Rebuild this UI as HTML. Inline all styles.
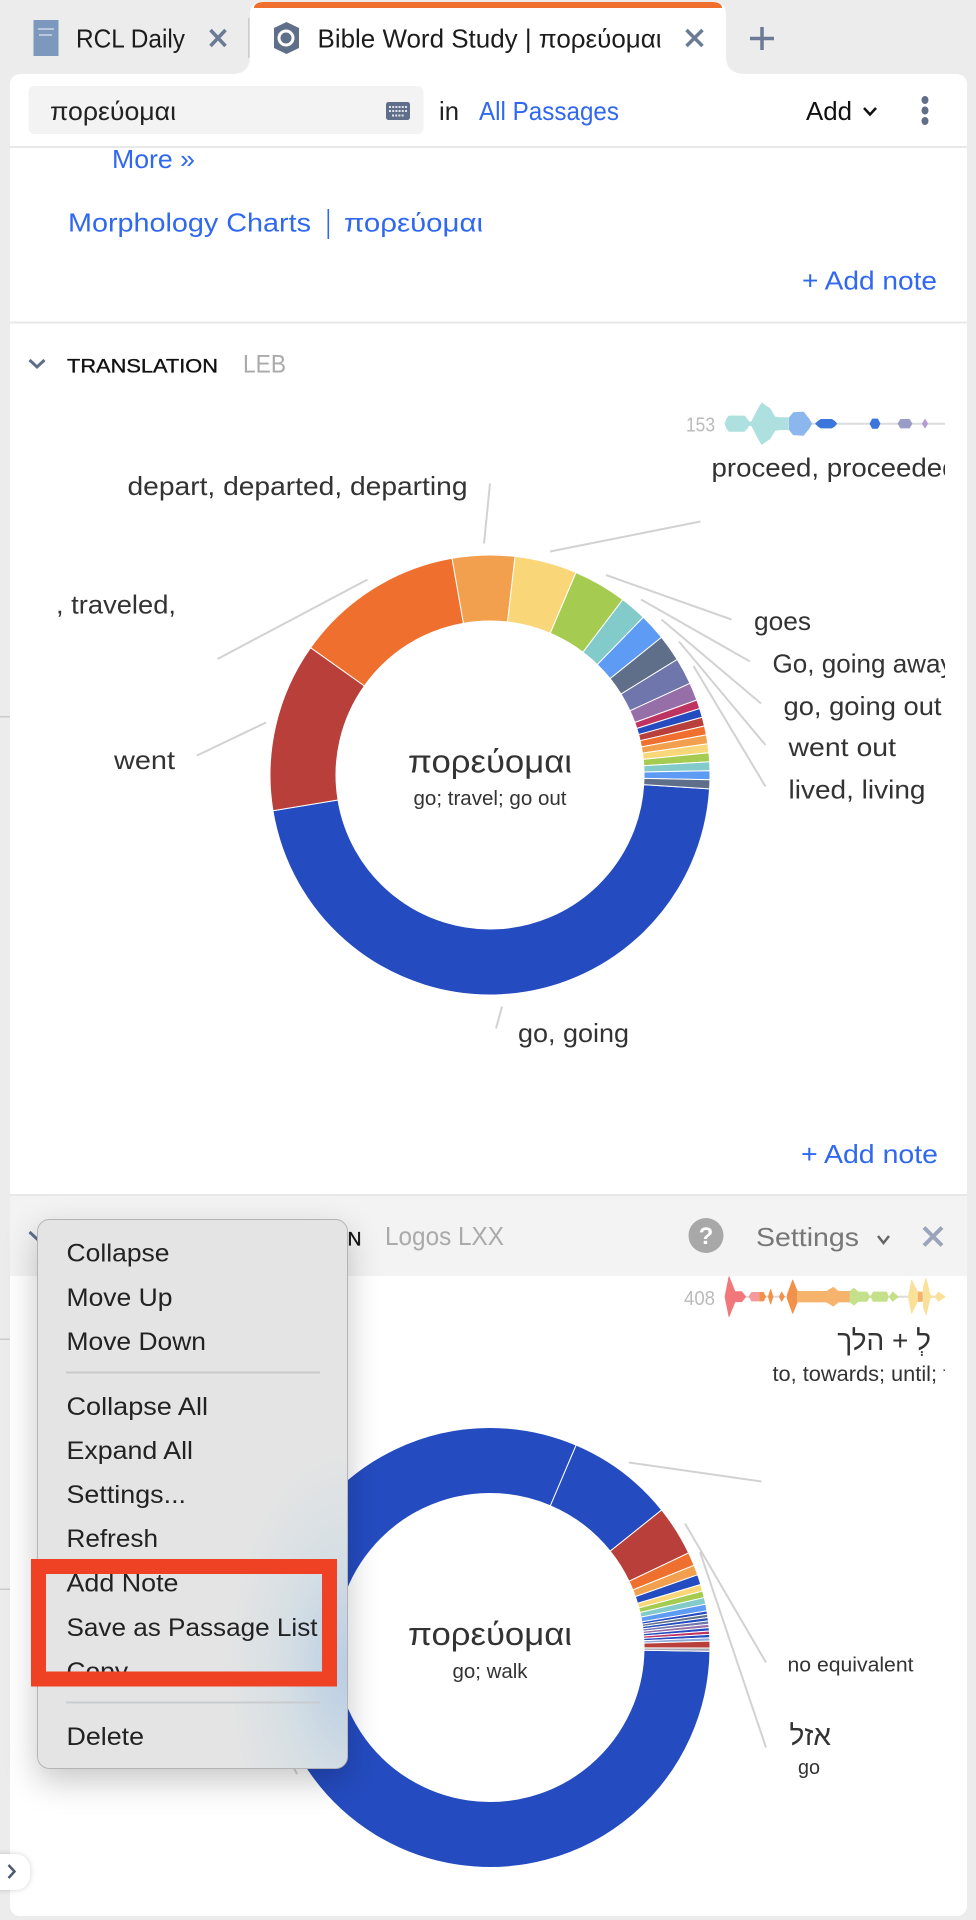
<!DOCTYPE html>
<html lang="en">
<head>
<meta charset="utf-8">
<title>Bible Word Study</title>
<style>
html,body{margin:0;padding:0;width:976px;height:1920px;overflow:hidden;background:#ececec}
svg{display:block;font-family:"Liberation Sans","DejaVu Sans",sans-serif}
.link{fill:#3068f0;font-size:26px}
.tab{fill:#1c1c1c;font-size:26px}
.lbl{fill:#333;font-size:26px}
.menu{fill:#222;font-size:25px}
.lead{stroke:#d2d2d2;stroke-width:2;fill:none}
.x{stroke:#6b7a95;stroke-width:3.5;fill:none}
</style>
</head>
<body>
<svg id="page" xmlns="http://www.w3.org/2000/svg" width="976" height="1920" viewBox="0 0 976 1920">
<defs>
<clipPath id="clipR"><rect x="0" y="0" width="945" height="1920"/></clipPath>
<filter id="menuShadow" x="-30%" y="-20%" width="160%" height="140%"><feDropShadow dx="0" dy="12" stdDeviation="16" flood-color="#000" flood-opacity="0.22"/></filter>
<filter id="btnShadow" x="-50%" y="-50%" width="200%" height="200%"><feDropShadow dx="0" dy="0" stdDeviation="3" flood-color="#000" flood-opacity="0.18"/></filter>
<radialGradient id="menuGlow" cx="1.01" cy="0.82" r="0.4"><stop offset="0" stop-color="#b9cde4"/><stop offset="0.55" stop-color="#d6dfe4"/><stop offset="1" stop-color="#e4e4e4"/></radialGradient>
</defs>

<rect x="0" y="0" width="976" height="1920" fill="#ececec"/>
<rect x="0" y="716" width="10" height="1.5" fill="#ccc"/>
<rect x="0" y="1338.5" width="10" height="1.5" fill="#ccc"/>
<rect x="0" y="1588.5" width="10" height="1.5" fill="#ccc"/>

<rect x="10" y="74" width="957" height="1842" rx="10" fill="#fff"/>

<!-- Tabs -->
<g>
<rect x="33.5" y="20" width="25" height="36" fill="#7d98bd"/>
<rect x="38" y="28" width="16" height="2" fill="#b9c8dc"/>
<rect x="39" y="34" width="13" height="2" fill="#b9c8dc"/>
<text class="tab" x="76" y="47.5" textLength="109" lengthAdjust="spacingAndGlyphs">RCL Daily</text>
<path class="x" d="M210.5 30L225.5 46M225.5 30L210.5 46"/>
</g>
<rect x="248" y="18" width="1.5" height="40" fill="#ccc"/>
<path d="M232 74C244 74 250 68 250 56V14C250 6 255 2 263 2H713C721 2 726 6 726 14V56C726 68 732 74 746 74Z" fill="#fff"/>
<path d="M254 8C254 4 258 2 264 2H712C718 2 722 4 722 8Z" fill="#ef702e"/>
<polygon points="286.5,22 299,28 299,48 286.5,54 274,48 274,28" fill="#5f6f89"/>
<circle cx="286" cy="38" r="7" fill="none" stroke="#fff" stroke-width="3"/>
<text class="tab" x="317.5" y="47.5" textLength="344" lengthAdjust="spacingAndGlyphs">Bible Word Study | πορεύομαι</text>
<path class="x" d="M686.5 30L702.5 46M702.5 30L686.5 46"/>
<path d="M762 27V50M750 38.5H774" stroke="#6b7a95" stroke-width="3.5" fill="none"/>

<!-- Toolbar -->
<rect x="28.5" y="86" width="395" height="48" rx="6" fill="#f3f3f3"/>
<text x="50" y="120" font-size="26" fill="#222" textLength="126" lengthAdjust="spacingAndGlyphs">πορεύομαι</text>
<g>
<rect x="386" y="102" width="24" height="18" rx="2.5" fill="#5f6f89"/>
<path d="M389 107H407M389 111H407M392 115.5H404" stroke="#dfe3ea" stroke-width="2" stroke-dasharray="2 1.2" fill="none"/>
</g>
<text x="439" y="120" font-size="26" fill="#222" textLength="20" lengthAdjust="spacingAndGlyphs">in</text>
<text class="link" x="479" y="120" textLength="140" lengthAdjust="spacingAndGlyphs">All Passages</text>
<text x="806" y="120" font-size="26" fill="#111" textLength="46" lengthAdjust="spacingAndGlyphs">Add</text>
<path d="M864 108L870 114.5L876 108" stroke="#111" stroke-width="2.5" fill="none"/>
<g fill="#5f6f89">
<ellipse cx="925" cy="100" rx="3.5" ry="4"/>
<ellipse cx="925" cy="110.5" rx="3.5" ry="4"/>
<ellipse cx="925" cy="121" rx="3.5" ry="4"/>
</g>
<rect x="10" y="146" width="957" height="2" fill="#e8e8e8"/>

<text class="link" x="112" y="168" textLength="83" lengthAdjust="spacingAndGlyphs">More »</text>
<text class="link" x="68" y="231.5" textLength="243" lengthAdjust="spacingAndGlyphs">Morphology Charts</text>
<rect x="327.5" y="209" width="1.6" height="30" fill="#3068f0"/>
<text class="link" x="344" y="231.5" textLength="139" lengthAdjust="spacingAndGlyphs">πορεύομαι</text>
<text class="link" x="802" y="289.5" textLength="135" lengthAdjust="spacingAndGlyphs">+ Add note</text>
<rect x="10" y="321.5" width="957" height="2" fill="#e8e8e8"/>

<!-- Translation section -->
<path d="M29.5 360L37 367L44.5 360" stroke="#5f6f89" stroke-width="3" fill="none"/>
<text x="67" y="372.5" font-size="19.5" fill="#111" stroke="#111" stroke-width="0.35" textLength="151" lengthAdjust="spacingAndGlyphs">TRANSLATION</text>
<text x="243" y="372.5" font-size="25" fill="#aaa" textLength="43" lengthAdjust="spacingAndGlyphs">LEB</text>

<text x="686" y="431.5" font-size="20" fill="#bbb" textLength="29" lengthAdjust="spacingAndGlyphs">153</text>
<g id="sparkOne"></g>

<g>
<path class="lead" d="M490 483.5L484 543.5"/>
<path class="lead" d="M700.5 521.5L550 551.5"/>
<path class="lead" d="M367.5 579.5L217.5 659"/>
<path class="lead" d="M266 722.5L197 755.5"/>
<path class="lead" d="M502 1006.5L496 1028.5"/>
<path class="lead" d="M606 575L731.5 619.5"/>
<path class="lead" d="M641 599.5L750 661.5"/>
<path class="lead" d="M661.5 619.5L761 703.5"/>
<path class="lead" d="M679 641.5L765.5 745"/>
<path class="lead" d="M693.5 666L765.5 786.5"/>
</g>

<g id="donutOne"></g>

<g clip-path="url(#clipR)">
<text class="lbl" x="127.5" y="495" textLength="340" lengthAdjust="spacingAndGlyphs">depart, departed, departing</text>
<text class="lbl" x="711.5" y="476.5" textLength="246" lengthAdjust="spacingAndGlyphs">proceed, proceeded</text>
<text class="lbl" x="56" y="613.5" textLength="120" lengthAdjust="spacingAndGlyphs">, traveled,</text>
<text class="lbl" x="114" y="769" textLength="61" lengthAdjust="spacingAndGlyphs">went</text>
<text class="lbl" x="754" y="630" textLength="57" lengthAdjust="spacingAndGlyphs">goes</text>
<text class="lbl" x="772.5" y="672.5" textLength="181" lengthAdjust="spacingAndGlyphs">Go, going away</text>
<text class="lbl" x="783.5" y="715" textLength="158" lengthAdjust="spacingAndGlyphs">go, going out</text>
<text class="lbl" x="788.5" y="756" textLength="107.5" lengthAdjust="spacingAndGlyphs">went out</text>
<text class="lbl" x="788.5" y="798.5" textLength="137" lengthAdjust="spacingAndGlyphs">lived, living</text>
<text class="lbl" x="518" y="1042" textLength="111" lengthAdjust="spacingAndGlyphs">go, going</text>
</g>
<text x="490" y="772.5" font-size="32" fill="#333" text-anchor="middle" textLength="164" lengthAdjust="spacingAndGlyphs">πορεύομαι</text>
<text x="490" y="805" font-size="20" fill="#333" text-anchor="middle" textLength="153" lengthAdjust="spacingAndGlyphs">go; travel; go out</text>

<text class="link" x="801" y="1163" textLength="137" lengthAdjust="spacingAndGlyphs">+ Add note</text>
<rect x="10" y="1194" width="957" height="2" fill="#e8e8e8"/>

<!-- LXX section header -->
<rect x="10" y="1196" width="957" height="80" fill="#f3f3f3"/>
<path d="M29.5 1232L37 1239L44.5 1232" stroke="#5f6f89" stroke-width="3" fill="none"/>
<text x="347.5" y="1245.5" font-size="19.5" fill="#111" stroke="#111" stroke-width="0.35" textLength="14" lengthAdjust="spacingAndGlyphs">N</text>
<text x="385" y="1245" font-size="26" fill="#aaa" textLength="119" lengthAdjust="spacingAndGlyphs">Logos LXX</text>
<circle cx="706" cy="1235.5" r="17.5" fill="#a8a8a8"/>
<text x="706" y="1244" font-size="24" font-weight="bold" fill="#fff" text-anchor="middle">?</text>
<text x="756" y="1246" font-size="26" fill="#777" textLength="103" lengthAdjust="spacingAndGlyphs">Settings</text>
<path d="M878 1236L883.5 1243L889 1236" stroke="#666" stroke-width="2.5" fill="none"/>
<path d="M924 1227.5L942 1245.5M942 1227.5L924 1245.5" stroke="#9aa5bb" stroke-width="4" fill="none"/>

<text x="684" y="1305" font-size="20" fill="#bbb" textLength="31" lengthAdjust="spacingAndGlyphs">408</text>
<g id="sparkTwo"></g>

<g>
<path class="lead" d="M629 1462.5L761.5 1481.5"/>
<path class="lead" d="M685 1523.5L766 1662.5"/>
<path class="lead" d="M700 1552L766 1747.5"/>
<path class="lead" d="M293 1766L297 1774"/>
</g>

<g id="donutTwo"></g>

<text x="490" y="1645" font-size="32" fill="#333" text-anchor="middle" textLength="164" lengthAdjust="spacingAndGlyphs">πορεύομαι</text>
<text x="490" y="1678" font-size="20" fill="#333" text-anchor="middle" textLength="75" lengthAdjust="spacingAndGlyphs">go; walk</text>
<g clip-path="url(#clipR)">
<text x="931" y="1350" font-size="28" fill="#333" style="direction:rtl;unicode-bidi:embed">לְ + הלך</text>
<text x="772.5" y="1381" font-size="21" fill="#333" textLength="196" lengthAdjust="spacingAndGlyphs">to, towards; until; for</text>
</g>
<text x="787.5" y="1671.5" font-size="20" fill="#333" textLength="126" lengthAdjust="spacingAndGlyphs">no equivalent</text>
<text x="831" y="1745" font-size="28" fill="#333" style="direction:rtl;unicode-bidi:embed">אזל</text>
<text x="798" y="1774" font-size="20" fill="#333" textLength="22" lengthAdjust="spacingAndGlyphs">go</text>

<!-- sidebar toggle -->
<rect x="-20" y="1854" width="50" height="36" rx="15" fill="#fff" filter="url(#btnShadow)"/>
<path d="M8.5 1865L14.5 1871.5L8.5 1878" stroke="#4d5a73" stroke-width="2.5" fill="none"/>

<!-- Context menu -->
<g>
<rect x="37.5" y="1219.5" width="310" height="549" rx="12" fill="#e4e4e4" stroke="#b4b4b4" stroke-width="1" filter="url(#menuShadow)"/>
<rect x="38" y="1220" width="309" height="548" rx="12" fill="url(#menuGlow)"/>
<text class="menu" x="66.5" y="1261.5" textLength="103" lengthAdjust="spacingAndGlyphs">Collapse</text>
<text class="menu" x="66.5" y="1306" textLength="106" lengthAdjust="spacingAndGlyphs">Move Up</text>
<text class="menu" x="66.5" y="1350" textLength="139.5" lengthAdjust="spacingAndGlyphs">Move Down</text>
<rect x="66" y="1371.5" width="254" height="2" fill="#cacaca"/>
<text class="menu" x="66.5" y="1415" textLength="141.5" lengthAdjust="spacingAndGlyphs">Collapse All</text>
<text class="menu" x="66.5" y="1459" textLength="126.5" lengthAdjust="spacingAndGlyphs">Expand All</text>
<text class="menu" x="66.5" y="1503" textLength="119.5" lengthAdjust="spacingAndGlyphs">Settings...</text>
<text class="menu" x="66.5" y="1547" textLength="91.5" lengthAdjust="spacingAndGlyphs">Refresh</text>
<text class="menu" x="66.5" y="1591.5" textLength="112" lengthAdjust="spacingAndGlyphs">Add Note</text>
<text class="menu" x="66.5" y="1636" textLength="251" lengthAdjust="spacingAndGlyphs">Save as Passage List</text>
<text class="menu" x="66.5" y="1680" textLength="61.5" lengthAdjust="spacingAndGlyphs">Copy</text>
<rect x="66" y="1701.5" width="254" height="2" fill="#c9cccf"/>
<text class="menu" x="66.5" y="1745" textLength="77.5" lengthAdjust="spacingAndGlyphs">Delete</text>
</g>
<rect x="38.5" y="1566.5" width="291" height="112.5" fill="none" stroke="#ef4124" stroke-width="15"/>
</svg>

<script>
// ---- Donut data ----
const donutOneCategories = ['go, going','went','traveled','depart, departed, departing','proceed, proceeded','goes','Go, going away','go, going out','went out','lived, living','other-1','other-2','other-3','other-4','other-5','other-6','other-7','other-8','other-9','other-10','other-11'];
const donutOneValues = [71,19,19,7,7,6,3,3,3,3,2,1,1,1,1,1,1,1,1,1,1];
const donutOneColors = ['#244bc0','#b83f3a','#ef702e','#f2a04e','#f9d677','#a5cc50','#82cbca','#5e9bf5','#5f6f89','#6f76ab','#966fa8','#bf3360','#244bc0','#b83f3a','#ef702e','#f2a04e','#f9d677','#a5cc50','#82cbca','#5e9bf5','#5f6f89'];
const donutTwoCategories = ['go','to, towards','s3','s4','s5','s6','s7','s8','s9','s10','s11','s12','s13','s14','s15','s16','s17','s18','s19','no equivalent','s21'];
const donutTwoValues = [331,32,15,4,3,3,2,2,2,2,1,1,1,1,1,1,1,1,1,2,1];
const donutTwoColors = ['#244bc0','#244bc0','#b83f3a','#ef702e','#f2a04e','#244bc0','#f9d677','#a5cc50','#82cbca','#5e9bf5','#244bc0','#5f6f89','#244bc0','#6f76ab','#966fa8','#244bc0','#bf3360','#244bc0','#8fa8d8','#b83f3a','#a9a9b4'];

// ---- Sparkline data (position along the corpus, half thickness, group) ----
const sparkOnePositions = [0,5,12,58,66,72,80,100,110,135,150,165,190, 193,205,235,252,260, 272,280,288,320,328,335, 435,442,458,465, 519,527,553,561, 592,600,608];
const sparkOneHalves    = [0,14,23,23,14,5,6,45,62,45,20,18,18, 18,33,35,14,0, 0,8,13,13,8,0, 0,14,14,0, 0,13,13,0, 0,13,0];
const sparkOneGroups    = [0,0,0,0,0,0,0,0,0,0,0,0,0, 1,1,1,1,1, 2,2,2,2,2,2, 3,3,3,3, 4,4,4,4, 5,5,5];
const sparkOnePalette   = ['#aee0df','#8cb6ee','#3a76dc','#3a76dc','#9a9cc8','#b79bd8'];
const sparkTwoPositions = [0,12,30,50,62, 72,80,105, 105,115,122, 130,137,144, 163,170,178, 187,203,217, 217,305,325,340,375, 375,387,400,425,435, 437,445,485,490, 493,503,520, 550,560,577,583, 580,580,592,592, 595,603,615,625, 630,640,660];
const sparkTwoHalves    = [0,60,15,15,0, 0,13,13, 13,13,0, 0,22,0, 0,14,0, 6,50,16, 16,16,28,16,16, 16,25,14,14,0, 0,14,14,0, 0,14,0, 0,50,15,15, 14,14,14,0, 30,55,6,0, 0,14,0];
const sparkTwoGroups    = [0,0,0,0,0, 1,1,1, 2,2,2, 3,3,3, 4,4,4, 5,5,5, 6,6,6,6,6, 7,7,7,7,7, 8,8,8,8, 9,9,9, 10,10,10,10, 11,11,11,11, 12,12,12,12, 13,13,13];
const sparkTwoPalette   = ['#f2777a','#f59a9a','#f2914a','#f2914a','#f2914a','#f2914a','#f5b36c','#c5e08a','#c5e08a','#c5e08a','#fae19a','#f2b36c','#fae19a','#fae19a'];

const SVG_NS = 'http://www.w3.org/2000/svg';

function polar(cx, cy, r, deg) {
  const a = deg * Math.PI / 180;
  return [cx + r * Math.sin(a), cy - r * Math.cos(a)];
}
function angleScale(values, start) {
  const total = values.reduce(function (s, v) { return s + v; }, 0);
  return function (cum) { return start + cum / total * 360; };
}
function drawDonut(groupId, values, colors, cats, cx, cy, R, r, start) {
  const g = document.getElementById(groupId);
  const angle = angleScale(values, start);
  let cum = 0;
  values.forEach(function (v, i) {
    const a0 = angle(cum);
    const a1 = angle(cum + v);
    cum += v;
    const large = a1 - a0 > 180 ? 1 : 0;
    const p0 = polar(cx, cy, R, a0), p1 = polar(cx, cy, R, a1);
    const p2 = polar(cx, cy, r, a1), p3 = polar(cx, cy, r, a0);
    const path = document.createElementNS(SVG_NS, 'path');
    path.setAttribute('d', 'M' + p0[0] + ' ' + p0[1] + 'A' + R + ' ' + R + ' 0 ' + large + ' 1 ' + p1[0] + ' ' + p1[1] +
      'L' + p2[0] + ' ' + p2[1] + 'A' + r + ' ' + r + ' 0 ' + large + ' 0 ' + p3[0] + ' ' + p3[1] + 'Z');
    path.setAttribute('fill', colors[i]);
    path.setAttribute('stroke', '#fff');
    path.setAttribute('stroke-width', '1');
    
    
    const t = document.createElementNS(SVG_NS, 'title');
    t.textContent = cats[i] + ': ' + v;
    path.appendChild(t);
    g.appendChild(path);
  });
}
function drawSpark(groupId, positions, halves, groups, palette, x0, y0) {
  const g = document.getElementById(groupId);
  const sx = function (p) { return x0 + p / 3; };
  const sh = function (h) { return h / 3; };
  const axis = document.createElementNS(SVG_NS, 'line');
  axis.setAttribute('x1', sx(0));
  axis.setAttribute('x2', sx(660));
  axis.setAttribute('y1', y0);
  axis.setAttribute('y2', y0);
  axis.setAttribute('stroke', '#dcdcdc');
  axis.setAttribute('stroke-width', '2');
  
  
  g.appendChild(axis);
  const ids = groups.filter(function (v, i, a) { return a.indexOf(v) === i; });
  ids.forEach(function (id) {
    const top = [], bottom = [];
    positions.forEach(function (p, i) {
      if (groups[i] !== id) return;
      top.push(sx(p) + ',' + (y0 - sh(halves[i])));
      bottom.unshift(sx(p) + ',' + (y0 + sh(halves[i])));
    });
    const poly = document.createElementNS(SVG_NS, 'polygon');
    poly.setAttribute('points', top.concat(bottom).join(' '));
    poly.setAttribute('fill', palette[id]);
    poly.setAttribute('stroke', palette[id]);
    poly.setAttribute('stroke-width', '0.8');
    poly.setAttribute('stroke-linejoin', 'round');
    
    
    g.appendChild(poly);
  });
}
drawDonut('donutOne', donutOneValues, donutOneColors, donutOneCategories, 490, 775, 220, 154, 93.6);
drawDonut('donutTwo', donutTwoValues, donutTwoColors, donutTwoCategories, 490, 1647.5, 220, 154, 91);
drawSpark('sparkOne', sparkOnePositions, sparkOneHalves, sparkOneGroups, sparkOnePalette, 725, 423.7);
drawSpark('sparkTwo', sparkTwoPositions, sparkTwoHalves, sparkTwoGroups, sparkTwoPalette, 725, 1296.7);
</script>
</body>
</html>
